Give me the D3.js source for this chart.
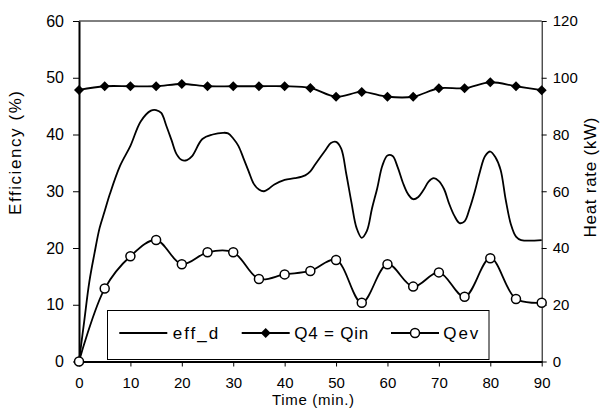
<!DOCTYPE html>
<html>
<head>
<meta charset="utf-8">
<script src="https://cdn.jsdelivr.net/npm/d3@7"></script>
<style>
  body { margin: 0; background: #fff; }
  svg { display: block; font-family: "Liberation Sans", Arial, sans-serif; }
  .axis path, .axis line { stroke: #000; }
  .axis text { fill: #000; }
</style>
</head>
<body>
<svg id="chart" width="600" height="416"></svg>
<script>
// marker series, every 5 minutes
var qTime = [0, 5, 10, 15, 20, 25, 30, 35, 40, 45, 50, 55, 60, 65, 70, 75, 80, 85, 90];
var q4 = [95.7, 97, 97, 97, 97.8, 97, 97, 97, 97, 96.4, 93.3, 95, 93.3, 93.3, 96.3, 96.3, 98.4, 97, 95.6];
var qev = [0, 25.7, 37.1, 42.8, 34.3, 38.5, 38.5, 29.1, 30.7, 31.9, 35.8, 20.7, 34.3, 26.4, 31.4, 22.8, 36.4, 22, 20.7];

// efficiency
var effTime = [0, 1, 2, 3, 4, 5, 6, 8, 10, 12, 14, 15, 16, 17, 18, 19, 20, 21, 22, 24, 26, 28, 29, 30,
  31, 32, 33, 34, 35, 36, 37, 38, 40, 42, 44, 45, 46, 48, 49, 50, 51, 52, 53, 54, 55, 56, 57, 58, 59,
  60, 61, 62, 63, 64, 65, 66, 67, 68, 69, 70, 71, 72, 73, 74, 75, 76, 77, 78, 79, 80, 81, 82, 83, 84,
  85, 86, 90];
var effVal = [0, 7, 14, 19, 23.5, 26.5, 29.5, 34.5, 38, 42.3, 44.2, 44.3, 43.8, 41.5, 39, 36.5, 35.5, 35.5,
  36.2, 39.2, 40, 40.3, 40.2, 39.3, 38, 35.8, 33.5, 31.3, 30.3, 30, 30.5, 31.2, 32, 32.3, 32.8, 33.5,
  34.8, 37.3, 38.5, 38.7, 37.5, 33, 28, 23.5, 21.8, 23, 27, 30.5, 34.5, 36.3, 36.2, 34.2, 31.5, 29.5,
  28.6, 29, 30.2, 31.7, 32.3, 31.8, 30.4, 27.8, 25.7, 24.4, 24.7, 27, 30, 33.5, 36.2, 37, 36, 33.8,
  28.5, 24.2, 22, 21.4, 21.4];

var xTicks = [0, 10, 20, 30, 40, 50, 60, 70, 80, 90];
var leftTicks = [0, 10, 20, 30, 40, 50, 60];
var rightTicks = [0, 20, 40, 60, 80, 100, 120];
var legendNames = ["eff_d", "Q4 = Qin", "Qev"];

var svg = d3.select("#chart");
var pLeft = 79, pRight = 541.7, pTop = 21, pBottom = 361.5;

var x = d3.scaleLinear().domain([0, 90]).range([pLeft, pRight]);
var yL = d3.scaleLinear().domain([0, 60]).range([pBottom, pTop]);
var yR = d3.scaleLinear().domain([0, 120]).range([pBottom, pTop]);

// plot frame top edge
svg.append("line").attr("x1", pLeft).attr("x2", pRight).attr("y1", pTop).attr("y2", pTop)
  .attr("stroke", "#000").attr("stroke-width", 1);

// axes
var gl = svg.append("g").attr("class", "axis")
  .attr("transform", "translate(" + pLeft + ",0)")
  .call(d3.axisLeft(yL).tickValues(leftTicks).tickSize(6).tickPadding(9).tickSizeOuter(0));
gl.select(".domain").attr("stroke-width", 2);
gl.selectAll("text").style("font-size", "16px");

var gr = svg.append("g").attr("class", "axis")
  .attr("transform", "translate(" + pRight + ",0)")
  .call(d3.axisRight(yR).tickValues(rightTicks).tickSize(5).tickPadding(6).tickSizeOuter(0));
gr.selectAll("text").style("font-size", "15px");

var gb = svg.append("g").attr("class", "axis")
  .attr("transform", "translate(0," + pBottom + ")")
  .call(d3.axisBottom(x).tickValues(xTicks).tickSize(5).tickPadding(11).tickSizeOuter(0));
gb.select(".domain").attr("stroke-width", 2);
gb.selectAll("text").style("font-size", "15px");

// axis titles
svg.append("text").attr("transform", "translate(21,153) rotate(-90)")
  .attr("text-anchor", "middle").style("font-size", "17px")
  .attr("textLength", 124).attr("lengthAdjust", "spacing")
  .text("Efficiency (%)");
svg.append("text").attr("transform", "translate(596,177.5) rotate(-90)")
  .attr("text-anchor", "middle").style("font-size", "17px")
  .attr("textLength", 120).attr("lengthAdjust", "spacing")
  .text("Heat rate (kW)");
svg.append("text").attr("x", 313).attr("y", 405)
  .attr("text-anchor", "middle").style("font-size", "15px")
  .attr("textLength", 82).attr("lengthAdjust", "spacing")
  .text("Time (min.)");

// lines
var effLine = d3.line().curve(d3.curveCatmullRom)
  .x(function(d, i) { return x(effTime[i]); })
  .y(function(d) { return yL(d); });
var qLine = d3.line().curve(d3.curveCatmullRom)
  .x(function(d, i) { return x(qTime[i]); })
  .y(function(d) { return yR(d); });

svg.append("path").datum(effVal).attr("d", effLine)
  .attr("fill", "none").attr("stroke", "#000").attr("stroke-width", 1.8);
svg.append("path").datum(q4).attr("d", qLine)
  .attr("fill", "none").attr("stroke", "#000").attr("stroke-width", 1.8);
svg.append("path").datum(qev).attr("d", qLine)
  .attr("fill", "none").attr("stroke", "#000").attr("stroke-width", 1.8);

var diamond = d3.symbol().type(d3.symbolDiamond2).size(64);

svg.selectAll(".q4pt").data(q4).enter().append("path")
  .attr("class", "q4pt")
  .attr("d", diamond)
  .attr("transform", function(d, i) { return "translate(" + x(qTime[i]) + "," + yR(d) + ")"; })
  .attr("fill", "#000");

svg.selectAll(".qevpt").data(qev).enter().append("circle")
  .attr("class", "qevpt")
  .attr("cx", function(d, i) { return x(qTime[i]); })
  .attr("cy", function(d) { return yR(d); })
  .attr("r", 4.5)
  .attr("fill", "#fff").attr("stroke", "#000").attr("stroke-width", 1.5);

// legend
var lg = svg.append("g");
lg.append("rect").attr("x", 107.5).attr("y", 310.5).attr("width", 381.5).attr("height", 49)
  .attr("fill", "#fff").attr("stroke", "#000").attr("stroke-width", 1);

var legX = [119.3, 241.7, 391];
var legTextX = [172.7, 294.3, 443.3];
var legTextW = [45.6, 74, 35];
var ly = 333;
legendNames.forEach(function(name, i) {
  lg.append("line").attr("x1", legX[i]).attr("x2", legX[i] + 48).attr("y1", ly).attr("y2", ly)
    .attr("stroke", "#000").attr("stroke-width", 1.8);
  if (i == 1) {
    lg.append("path").attr("d", diamond).attr("transform", "translate(" + (legX[i] + 24) + "," + ly + ")")
      .attr("fill", "#000");
  } else if (i == 2) {
    lg.append("circle").attr("cx", legX[i] + 24).attr("cy", ly).attr("r", 4.5)
      .attr("fill", "#fff").attr("stroke", "#000").attr("stroke-width", 1.5);
  }
  lg.append("text").attr("x", legTextX[i]).attr("y", ly + 6).style("font-size", "17px")
    .attr("textLength", legTextW[i]).attr("lengthAdjust", "spacing")
    .text(name);
});
</script>
</body>
</html>
